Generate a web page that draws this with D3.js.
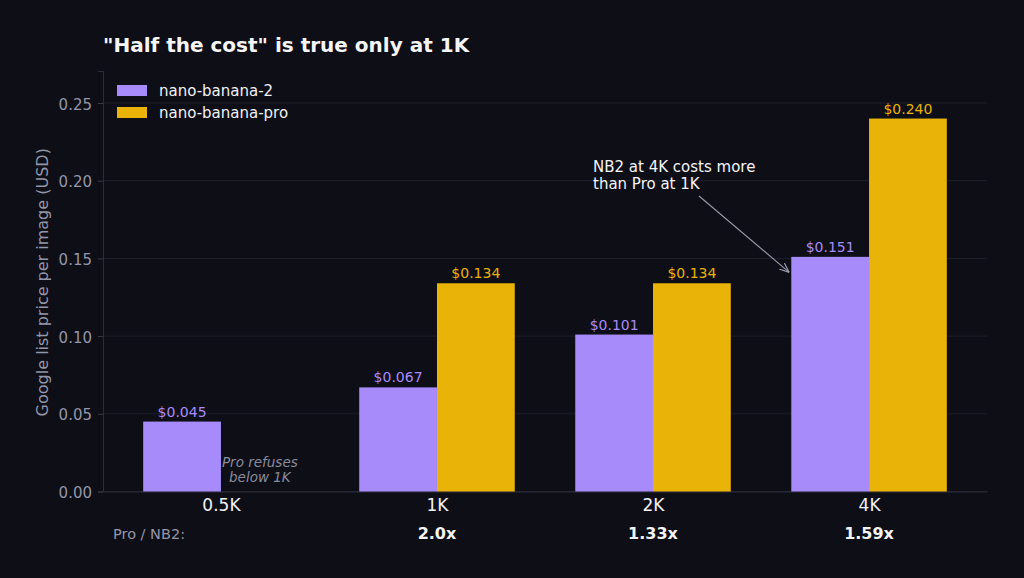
<!DOCTYPE html>
<html>
<head>
<meta charset="utf-8">
<script src="https://cdn.jsdelivr.net/npm/d3@7"></script>
<style>
  html, body { margin: 0; padding: 0; background: #0d0e16; }
  svg { display: block; font-family: "DejaVu Sans", sans-serif; }
</style>
</head>
<body>
<svg width="1024" height="578"></svg>
<script>
// chart data
const categories = ["0.5K", "1K", "2K", "4K"];
const nb2Prices = [0.045, 0.067, 0.101, 0.151];
const proPrices = [null, 0.134, 0.134, 0.240];
const ratioLabels = ["", "2.0x", "1.33x", "1.59x"];
const yTicks = [0, 0.05, 0.10, 0.15, 0.20, 0.25];
const seriesNames = ["nano-banana-2", "nano-banana-pro"];

const purple = "#a78bfa";
const yellow = "#eab308";
const muted = "#9495a8";

const svg = d3.select("svg");
const margin = { top: 71, right: 37, bottom: 86.5, left: 103 };
const width = 1024, height = 578;
const barWidth = 0.36;

const x = d3.scaleLinear()
    .domain([-0.546, 3.546])
    .range([margin.left, width - margin.right]);

const y = d3.scaleLinear()
    .domain([0, 0.2706])
    .range([height - margin.bottom, margin.top]);

svg.append("rect").attr("width", width).attr("height", height).attr("fill", "#0d0e16");

// grid lines
svg.append("g")
    .selectAll("line")
    .data(yTicks)
    .join("line")
    .attr("x1", margin.left).attr("x2", width - margin.right)
    .attr("y1", d => y(d)).attr("y2", d => y(d))
    .attr("stroke", "#1e1f2c").attr("stroke-width", 1);

// y axis
const yAxis = svg.append("g")
    .attr("transform", `translate(${margin.left},0)`)
    .call(d3.axisLeft(y).tickValues(yTicks).tickFormat(d3.format(".2f")).tickSize(5).tickPadding(6));
yAxis.select(".domain").attr("stroke", "#2c2d3c");
yAxis.selectAll(".tick line").attr("stroke", "#3a3b4a");
yAxis.selectAll(".tick text")
    .attr("fill", muted).attr("font-size", 15).attr("font-family", "DejaVu Sans")
    .attr("dy", "0.4em");

// x axis
const xAxis = svg.append("g")
    .attr("transform", `translate(0,${height - margin.bottom})`)
    .call(d3.axisBottom(x).tickValues(d3.range(categories.length)).tickFormat(i => categories[i]).tickSize(0).tickPadding(7));
xAxis.select(".domain").attr("stroke", "#2c2d3c");
xAxis.selectAll(".tick text")
    .attr("fill", "#f2f2f5").attr("font-size", 17).attr("font-family", "DejaVu Sans");

// bars
const nb2Data = nb2Prices.map((v, i) => ({ i, v }));
const proData = proPrices.map((v, i) => ({ i, v })).filter(d => d.v !== null);

svg.append("g").selectAll("rect")
    .data(nb2Data)
    .join("rect")
    .attr("x", d => x(d.i - barWidth))
    .attr("width", d => x(d.i) - x(d.i - barWidth))
    .attr("y", d => y(d.v))
    .attr("height", d => y(0) - y(d.v))
    .attr("fill", purple);

svg.append("g").selectAll("rect")
    .data(proData)
    .join("rect")
    .attr("x", d => x(d.i))
    .attr("width", d => x(d.i + barWidth) - x(d.i))
    .attr("y", d => y(d.v))
    .attr("height", d => y(0) - y(d.v))
    .attr("fill", yellow);

// value labels
svg.append("g").selectAll("text")
    .data(nb2Data)
    .join("text")
    .attr("x", d => x(d.i - barWidth / 2))
    .attr("y", d => y(d.v) - 5)
    .attr("text-anchor", "middle")
    .attr("font-size", 14)
    .attr("fill", purple)
    .text(d => "$" + d3.format(".3f")(d.v));

svg.append("g").selectAll("text")
    .data(proData)
    .join("text")
    .attr("x", d => x(d.i + barWidth / 2))
    .attr("y", d => y(d.v) - 5)
    .attr("text-anchor", "middle")
    .attr("font-size", 14)
    .attr("fill", yellow)
    .text(d => "$" + d3.format(".3f")(d.v));

// missing pro bar note
const note = svg.append("text")
    .attr("text-anchor", "middle")
    .attr("font-size", 13.5)
    .attr("font-style", "italic")
    .attr("fill", "#8a8b9c");
note.append("tspan").attr("x", x(barWidth / 2)).attr("y", y(0.0155)).text("Pro refuses");
note.append("tspan").attr("x", x(barWidth / 2)).attr("y", y(0.0058)).text("below 1K");

// ratio row
svg.append("text")
    .attr("x", 113).attr("y", 539)
    .attr("font-size", 14.5).attr("fill", muted)
    .text("Pro / NB2:");

svg.append("g").selectAll("text")
    .data(ratioLabels.map((r, i) => ({ r, i })).filter(d => d.r))
    .join("text")
    .attr("x", d => x(d.i))
    .attr("y", 539)
    .attr("text-anchor", "middle")
    .attr("font-size", 16)
    .attr("font-weight", "bold")
    .attr("fill", "#f4f4f6")
    .text(d => d.r);

// y label
svg.append("text")
    .attr("transform", `translate(48,${(y(0) + y(0.2706)) / 2 + 1}) rotate(-90)`)
    .attr("text-anchor", "middle")
    .attr("font-size", 16)
    .attr("fill", muted)
    .text("Google list price per image (USD)");

// title
svg.append("text")
    .attr("x", 103).attr("y", 52)
    .attr("font-size", 20)
    .attr("font-weight", "bold")
    .attr("fill", "#f6f6f8")
    .text("\"Half the cost\" is true only at 1K");

// legend
const legend = svg.append("g").attr("transform", "translate(117,85)");
seriesNames.forEach((name, k) => {
    legend.append("rect")
        .attr("x", 0).attr("y", k * 22)
        .attr("width", 30).attr("height", 11)
        .attr("fill", k === 0 ? purple : yellow);
    legend.append("text")
        .attr("x", 42).attr("y", k * 22 + 11)
        .attr("font-size", 15)
        .attr("fill", "#f2f2f5")
        .text(name);
});

// annotation with arrow
svg.append("defs").append("marker")
    .attr("id", "arrow")
    .attr("viewBox", "0 0 10 10")
    .attr("refX", 10).attr("refY", 5)
    .attr("markerWidth", 9).attr("markerHeight", 9)
    .attr("orient", "auto-start-reverse")
    .append("path")
    .attr("d", "M0,1 L10,5 L0,9")
    .attr("fill", "none")
    .attr("stroke", "#9a9bab")
    .attr("stroke-width", 1.2);

svg.append("line")
    .attr("x1", 699).attr("y1", 196)
    .attr("x2", x(3 - barWidth) - 2).attr("y2", y(0.141))
    .attr("stroke", "#9a9bab")
    .attr("stroke-width", 1.1)
    .attr("marker-end", "url(#arrow)");

const ann = svg.append("text")
    .attr("font-size", 15)
    .attr("fill", "#f4f4f6");
ann.append("tspan").attr("x", 593).attr("y", 172).text("NB2 at 4K costs more");
ann.append("tspan").attr("x", 593).attr("y", 189).text("than Pro at 1K");
</script>
</body>
</html>
